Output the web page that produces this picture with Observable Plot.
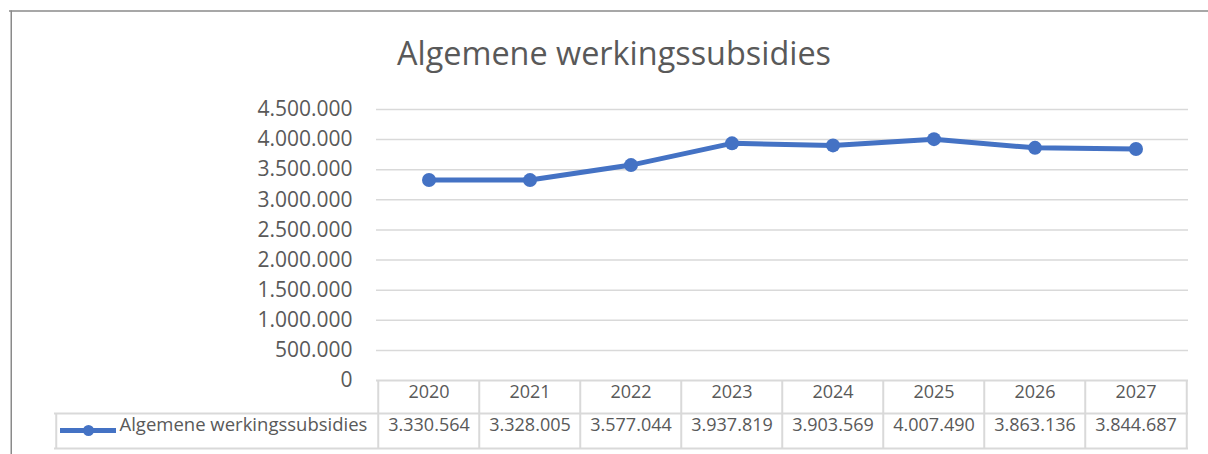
<!DOCTYPE html>
<html>
<head>
<meta charset="utf-8">
<script src="https://cdn.jsdelivr.net/npm/d3@7"></script>
<script src="https://cdn.jsdelivr.net/npm/@observablehq/plot@0.6"></script>
<style>
  html, body { margin: 0; padding: 0; background: #fff; }
  #chart svg { display: block; }
</style>
</head>
<body>
<div id="chart"></div>
<script>
// ---- data ----
const title = "Algemene werkingssubsidies";
const seriesName = "Algemene werkingssubsidies";
const years = ["2020", "2021", "2022", "2023", "2024", "2025", "2026", "2027"];
const values = [3330564, 3328005, 3577044, 3937819, 3903569, 4007490, 3863136, 3844687];
const yTicks = [0, 500000, 1000000, 1500000, 2000000, 2500000, 3000000, 3500000, 4000000, 4500000];

const data = years.map((y, i) => ({year: y, value: values[i]}));
const nl = d3.formatLocale({decimal: ",", thousands: ".", grouping: [3], currency: ["€", ""]});
const fmt = nl.format(",");

const W = 1208, H = 454;
const mL = 376, mR = 20, mT = 109, mB = 74;
const bw = (W - mL - mR) / years.length; // band width
const frameH = H - mT - mB;
const textCol = "#595959";
const gridCol = "#d9d9d9";
const blue = "#4472C4";
const font = "'Open Sans', sans-serif";

const chart = Plot.plot({
  width: W,
  height: H,
  marginLeft: mL,
  marginRight: mR,
  marginTop: mT,
  marginBottom: mB,
  style: {fontFamily: font, color: textCol, background: "#fff", overflow: "visible"},
  x: {type: "band", domain: years, padding: 0, axis: null},
  y: {domain: [0, 4500000], axis: null, label: null},
  marks: [
    // outer border (top + left)
    Plot.ruleY([4500000], {dy: -98.5, insetLeft: -(mL - 9), insetRight: -mR, stroke: "#8a8a8a", strokeWidth: 1.5}),
    Plot.ruleX([years[0]], {dx: 9 - (mL + bw / 2), insetTop: -98.5, insetBottom: -mB, stroke: "#8a8a8a", strokeWidth: 1.5}),
    // gridlines
    Plot.ruleY(yTicks.filter(d => d > 0), {stroke: gridCol, strokeWidth: 1.5}),
    // y axis labels
    Plot.axisY(yTicks, {tickSize: 0, tickPadding: 24, tickFormat: fmt, fontSize: 21, fill: textCol, label: null}),
    // data table: horizontal lines
    Plot.ruleY([0], {stroke: gridCol, strokeWidth: 2}),
    Plot.ruleY([0], {dy: 33, insetLeft: -(mL - 54), stroke: gridCol, strokeWidth: 2}),
    Plot.ruleY([0], {dy: 68, insetLeft: -(mL - 54), stroke: gridCol, strokeWidth: 2}),
    // data table: vertical lines (band boundaries)
    Plot.ruleX(years, {x: d => d, dx: -bw / 2, insetTop: frameH, insetBottom: -68, stroke: gridCol, strokeWidth: 2}),
    Plot.ruleX([years[years.length - 1]], {dx: bw / 2, insetTop: frameH, insetBottom: -68, stroke: gridCol, strokeWidth: 2}),
    Plot.ruleX([years[0]], {dx: 54 - (mL + bw / 2), insetTop: frameH + 33, insetBottom: -68, stroke: gridCol, strokeWidth: 2}),
    // table header (years)
    Plot.text(years, {x: d => d, frameAnchor: "bottom", dy: 17, fontSize: 18, fill: textCol}),
    // table values
    Plot.text(data, {x: "year", text: d => fmt(d.value), frameAnchor: "bottom", dy: 50, fontSize: 18, fill: textCol}),
    // legend key in table
    Plot.ruleY([0], {dy: 50, insetLeft: -(mL - 60), insetRight: (W - mR) - 116, stroke: blue, strokeWidth: 5}),
    Plot.dot([0], {frameAnchor: "bottom-left", dx: 88 - mL, dy: 50, r: 5.5, fill: blue}),
    Plot.text([seriesName], {frameAnchor: "bottom-left", dx: 119 - mL, dy: 50, textAnchor: "start", fontSize: 18.5, fill: textCol}),
    // series
    Plot.line(data, {x: "year", y: "value", stroke: blue, strokeWidth: 5, strokeLinejoin: "round", strokeLinecap: "round"}),
    Plot.dot(data, {x: "year", y: "value", r: 7, fill: blue}),
    // title
    Plot.text([title], {frameAnchor: "top-left", dx: 613.5 - mL, dy: -44.5, lineAnchor: "bottom", textAnchor: "middle", fontSize: 32.4, fill: textCol})
  ]
});
document.getElementById("chart").appendChild(chart);
</script>
</body>
</html>
